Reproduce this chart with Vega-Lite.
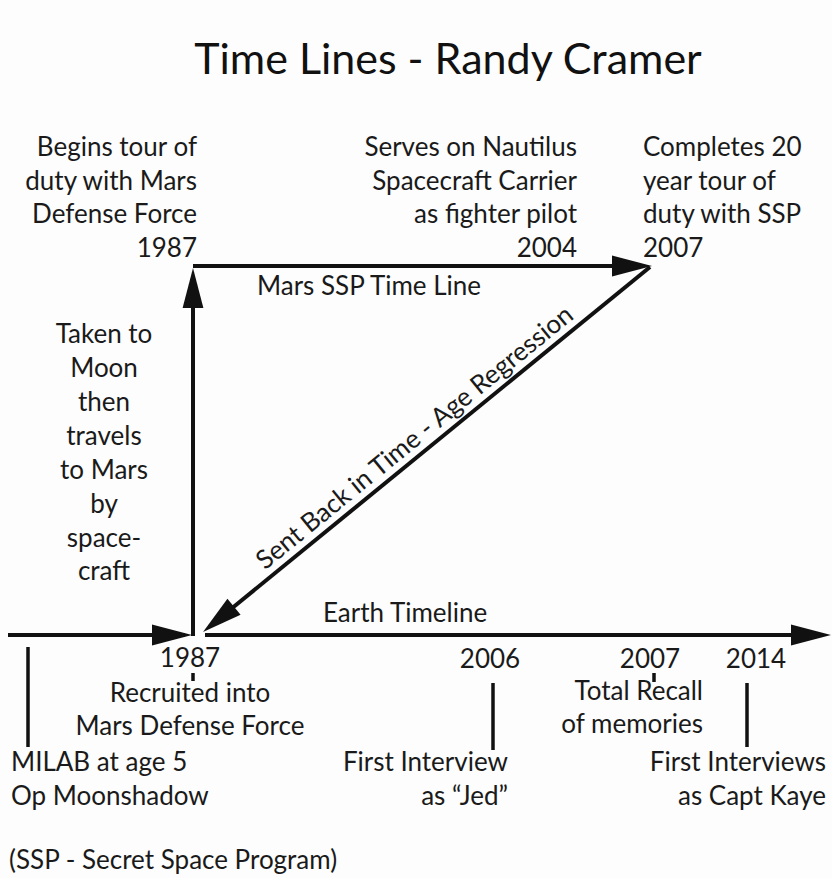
{
  "$schema": "https://vega.github.io/schema/vega-lite/v6.json",
  "width": 832,
  "height": 878,
  "autosize": {"type": "fit", "contains": "padding"},
  "padding": 0,
  "background": "#fdfdfd",
  "config": {"view": {"stroke": null}},
  "datasets": {
    "lines": [
      {"x": 8, "y": 635, "x2": 185, "y2": 635},
      {"x": 205, "y": 635, "x2": 815, "y2": 635},
      {"x": 193, "y": 636, "x2": 193, "y2": 285},
      {"x": 193, "y": 266, "x2": 635, "y2": 266},
      {"x": 650, "y": 267, "x2": 220, "y2": 618}
    ],
    "ticks": [
      {"x": 28, "y": 647, "x2": 28, "y2": 747},
      {"x": 493, "y": 683, "x2": 493, "y2": 750},
      {"x": 747, "y": 683, "x2": 747, "y2": 747},
      {"x": 193, "y": 673, "x2": 193, "y2": 681},
      {"x": 654, "y": 673, "x2": 654, "y2": 682}
    ],
    "arrows": [
      {"x": 192, "y": 635, "dir": 0},
      {"x": 193, "y": 268, "dir": 270},
      {"x": 652, "y": 266, "dir": 0},
      {"x": 203, "y": 632, "dir": 140.8},
      {"x": 831, "y": 635, "dir": 0}
    ],
    "labels": [
      {"t": "Begins tour of", "x": 197, "y": 156, "a": "right"},
      {"t": "duty with Mars", "x": 197, "y": 190, "a": "right"},
      {"t": "Defense Force", "x": 197, "y": 223, "a": "right"},
      {"t": "1987", "x": 197, "y": 257, "a": "right"},
      {"t": "Serves on Nautilus", "x": 577, "y": 156, "a": "right"},
      {"t": "Spacecraft Carrier", "x": 577, "y": 190, "a": "right"},
      {"t": "as fighter pilot", "x": 577, "y": 223, "a": "right"},
      {"t": "2004", "x": 577, "y": 257, "a": "right"},
      {"t": "First Interview", "x": 508, "y": 771, "a": "right"},
      {"t": "as “Jed”", "x": 508, "y": 805, "a": "right"},
      {"t": "First Interviews", "x": 826, "y": 771, "a": "right"},
      {"t": "as Capt Kaye", "x": 826, "y": 805, "a": "right"},
      {"t": "Total Recall", "x": 703, "y": 700, "a": "right"},
      {"t": "of memories", "x": 703, "y": 733, "a": "right"},
      {"t": "Completes 20", "x": 643, "y": 156, "a": "left"},
      {"t": "year tour of", "x": 643, "y": 190, "a": "left"},
      {"t": "duty with SSP", "x": 643, "y": 223, "a": "left"},
      {"t": "2007", "x": 643, "y": 257, "a": "left"},
      {"t": "Mars SSP Time Line", "x": 257, "y": 295, "a": "left"},
      {"t": "Earth Timeline", "x": 323, "y": 622, "a": "left"},
      {"t": "MILAB at age 5", "x": 11, "y": 771, "a": "left"},
      {"t": "Op Moonshadow", "x": 11, "y": 805, "a": "left"},
      {"t": "(SSP - Secret Space Program)", "x": 9, "y": 869, "a": "left"},
      {"t": "Taken to", "x": 104, "y": 343, "a": "center"},
      {"t": "Moon", "x": 104, "y": 377, "a": "center"},
      {"t": "then", "x": 104, "y": 411, "a": "center"},
      {"t": "travels", "x": 104, "y": 445, "a": "center"},
      {"t": "to Mars", "x": 104, "y": 479, "a": "center"},
      {"t": "by", "x": 104, "y": 513, "a": "center"},
      {"t": "space-", "x": 104, "y": 547, "a": "center"},
      {"t": "craft", "x": 104, "y": 580, "a": "center"},
      {"t": "1987", "x": 190, "y": 667, "a": "center"},
      {"t": "Recruited into", "x": 190, "y": 702, "a": "center"},
      {"t": "Mars Defense Force", "x": 190, "y": 735, "a": "center"},
      {"t": "2006", "x": 490, "y": 668, "a": "center"},
      {"t": "2007", "x": 650, "y": 668, "a": "center"},
      {"t": "2014", "x": 756, "y": 668, "a": "center"}
    ],
    "title": [{"t": "Time Lines - Randy Cramer", "x": 448, "y": 74}],
    "diag": [{"t": "Sent Back in Time - Age Regression", "x": 415, "y": 438}]
  },
  "encoding": {
    "x": {"field": "x", "type": "quantitative", "scale": {"domain": [0, 832], "nice": false, "zero": false}, "axis": null},
    "y": {"field": "y", "type": "quantitative", "scale": {"domain": [0, 878], "nice": false, "zero": false, "reverse": true}, "axis": null}
  },
  "layer": [
    {
      "data": {"name": "lines"},
      "mark": {"type": "rule", "color": "#111111", "strokeWidth": 4},
      "encoding": {"x2": {"field": "x2"}, "y2": {"field": "y2"}}
    },
    {
      "data": {"name": "ticks"},
      "mark": {"type": "rule", "color": "#111111", "strokeWidth": 3.5},
      "encoding": {"x2": {"field": "x2"}, "y2": {"field": "y2"}}
    },
    {
      "data": {"name": "arrows"},
      "mark": {"type": "point", "shape": "M0,0L-2,-0.52L-2,0.52Z", "filled": true, "color": "#111111", "opacity": 1, "size": 1600},
      "encoding": {"angle": {"field": "dir", "type": "quantitative", "scale": null}}
    },
    {
      "data": {"name": "labels"},
      "transform": [{"filter": "datum.a == 'right'"}],
      "mark": {"type": "text", "align": "right", "baseline": "alphabetic", "font": "Lato", "fontSize": 26, "color": "#1a1a1a"},
      "encoding": {"text": {"field": "t"}}
    },
    {
      "data": {"name": "labels"},
      "transform": [{"filter": "datum.a == 'left'"}],
      "mark": {"type": "text", "align": "left", "baseline": "alphabetic", "font": "Lato", "fontSize": 26, "color": "#1a1a1a"},
      "encoding": {"text": {"field": "t"}}
    },
    {
      "data": {"name": "labels"},
      "transform": [{"filter": "datum.a == 'center'"}],
      "mark": {"type": "text", "align": "center", "baseline": "alphabetic", "font": "Lato", "fontSize": 26, "color": "#1a1a1a"},
      "encoding": {"text": {"field": "t"}}
    },
    {
      "data": {"name": "title"},
      "mark": {"type": "text", "align": "center", "baseline": "alphabetic", "font": "Lato", "fontSize": 43, "color": "#111111"},
      "encoding": {"text": {"field": "t"}}
    },
    {
      "data": {"name": "diag"},
      "mark": {"type": "text", "align": "center", "baseline": "middle", "angle": 320.8, "font": "Lato", "fontSize": 26, "color": "#1a1a1a"},
      "encoding": {"text": {"field": "t"}}
    }
  ]
}
